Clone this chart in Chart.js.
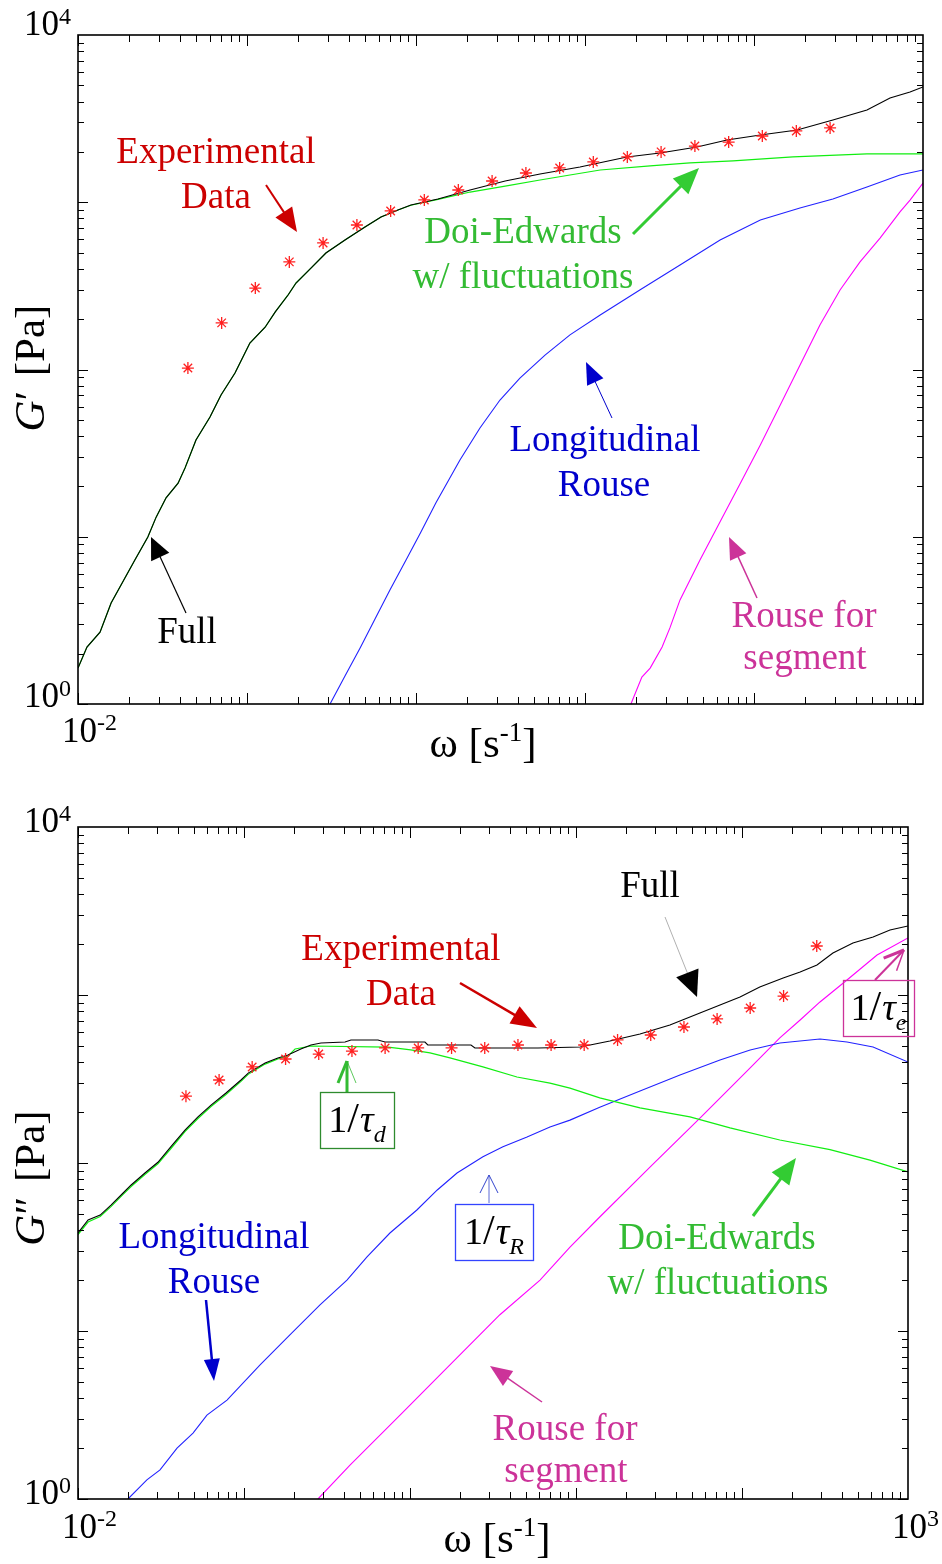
<!DOCTYPE html>
<html><head><meta charset="utf-8">
<script src="https://cdn.jsdelivr.net/npm/chart.js@4.4.1/dist/chart.umd.min.js"></script>
<style>
html,body{margin:0;padding:0;background:#fff;}
#wrap{position:relative;width:942px;height:1564px;overflow:hidden;}
canvas{position:absolute;left:0;}
</style></head><body>
<div id="wrap">
<canvas id="c1" width="942" height="780" style="top:0px"></canvas>
<canvas id="c2" width="942" height="784" style="top:780px"></canvas>
</div>
<script>
// ---------------- DATA ----------------
const xTickLabels = ['10', '-2'];
const omegaExp = [0.0447, 0.0708, 0.112, 0.178, 0.282, 0.447, 0.708, 1.12, 1.78, 2.82, 4.47, 7.08, 11.2, 17.8, 28.2, 44.7, 70.8, 112, 178, 282];
const gpExp  = [102, 190, 307, 440, 571, 731, 887, 1032, 1184, 1340, 1496, 1603, 1742, 1866, 2000, 2168, 2291, 2490, 2669, 2782];
const gppExp = [250, 312, 373, 416, 445, 464, 484, 484, 484, 484, 504, 504, 504, 540, 578, 645, 720, 837, 986, 1958];

// G' panel
const gpFullW = [0.01, 0.0113, 0.0135, 0.0157, 0.0217, 0.0259, 0.029, 0.0332, 0.0391, 0.043, 0.0499, 0.0604, 0.0702, 0.0849, 0.104, 0.128, 0.147, 0.175, 0.195, 0.239, 0.293, 0.38, 0.499, 0.621, 0.782, 0.933, 1.35, 2.09, 3.37, 5.42, 9.34, 17.7, 27.8, 46.0, 69.2, 109, 180, 293, 466, 638, 838, 1000];
const gpFull  = [1.64, 2.19, 2.69, 4.02, 7.26, 9.96, 13.1, 17.1, 20.9, 25.8, 37.9, 52.0, 70.4, 95.3, 144, 179, 221, 279, 329, 404, 497, 595, 711, 816, 899, 963, 1045, 1184, 1340, 1475, 1625, 1866, 1970, 2138, 2355, 2523, 2704, 3104, 3563, 4200, 4563, 4887];
const gpDoiW = [0.01, 0.0113, 0.0135, 0.0157, 0.0217, 0.0259, 0.029, 0.0332, 0.0391, 0.043, 0.0499, 0.0604, 0.0702, 0.0849, 0.104, 0.128, 0.147, 0.175, 0.195, 0.239, 0.293, 0.38, 0.499, 0.621, 0.782, 0.933, 1.35, 2.09, 3.37, 5.42, 8.15, 12.3, 24.3, 41.8, 75.1, 170, 466, 1000];
const gpDoi  = [1.64, 2.19, 2.69, 4.02, 7.26, 9.96, 13.1, 17.1, 20.9, 25.8, 37.9, 52.0, 70.4, 95.3, 144, 179, 221, 279, 329, 404, 497, 595, 711, 816, 899, 960, 1040, 1151, 1250, 1359, 1455, 1559, 1648, 1719, 1766, 1866, 1945, 1945];
const gpLongW = [0.31, 0.38, 0.467, 0.572, 0.701, 0.873, 1.06, 1.31, 1.82, 2.39, 3.14, 4.12, 5.8, 8.15, 12.3, 21.1, 36.5, 63.0, 109, 187, 293, 466, 731, 1000];
const gpLong  = [1.0, 1.47, 2.16, 3.22, 4.81, 7.26, 10.5, 15.9, 28.8, 44.7, 65.7, 88.9, 122, 161, 212, 299, 422, 595, 783, 924, 1045, 1233, 1455, 1559];
const gpSegW = [18.7, 21.7, 24.3, 28.6, 31.8, 36.5, 47.9, 63.0, 82.6, 109, 143, 187, 246, 323, 424, 557, 731, 838, 1000];
const gpSeg  = [1.0, 1.45, 1.64, 2.19, 2.85, 4.19, 7.26, 12.3, 20.7, 35.4, 61.4, 106, 185, 299, 440, 611, 875, 1031, 1303];

// G'' panel
const gppFullW = [0.01, 0.0115, 0.0136, 0.0158, 0.0187, 0.0209, 0.0253, 0.0303, 0.0363, 0.0441, 0.0528, 0.0633, 0.0779, 0.0959, 0.106, 0.134, 0.16, 0.184, 0.22, 0.253, 0.291, 0.406, 0.441, 0.641, 0.707, 1.23, 1.28, 2.33, 2.46, 5.9, 10.6, 16.0, 24.3, 36.8, 55.8, 73.7, 97.3, 128, 177, 224, 283, 353, 466, 616, 779, 1000];
const gppFull  = [38.3, 45.8, 49.0, 56.2, 66.3, 74.0, 87.2, 101, 125, 157, 188, 221, 261, 312, 343, 394, 422, 439, 477, 504, 518, 525, 540, 540, 525, 525, 504, 504, 484, 484, 490, 532, 586, 663, 781, 872, 973, 1116, 1263, 1371, 1509, 1778, 2041, 2214, 2438, 2574];
const gppDoiW = [0.01, 0.0115, 0.0136, 0.0158, 0.0187, 0.0209, 0.0253, 0.0303, 0.0363, 0.0441, 0.0528, 0.0633, 0.0779, 0.0959, 0.106, 0.134, 0.16, 0.184, 0.203, 0.253, 0.737, 1.01, 1.32, 1.74, 2.75, 4.41, 6.97, 9.2, 13.9, 24.3, 48.6, 84.7, 169, 339, 590, 1000];
const gppDoi  = [37.5, 44.5, 48.0, 55.0, 65.0, 72.5, 85.5, 99, 122, 154, 184, 217, 256, 306, 337, 388, 416, 433, 477, 497, 490, 471, 452, 422, 373, 325, 299, 279, 244, 213, 188, 162, 137, 120, 104, 88.4];
const gppLongW = [0.02, 0.026, 0.0312, 0.0395, 0.0493, 0.0598, 0.079, 0.125, 0.189, 0.287, 0.417, 0.551, 0.757, 1.10, 1.46, 1.92, 2.75, 3.63, 5.07, 6.97, 9.2, 13.9, 24.3, 42.3, 73.7, 112, 169, 295, 429, 616, 1000];
const gppLong  = [1.0, 1.3, 1.49, 2.01, 2.47, 3.16, 3.88, 6.28, 9.47, 14.3, 20.1, 27.6, 38.3, 52.5, 69.1, 87.2, 109, 125, 143, 164, 180, 215, 268, 334, 410, 471, 518, 547, 525, 490, 399];
const gppSegW = [0.279, 0.435, 0.871, 1.74, 3.48, 6.07, 9.2, 13.9, 27.9, 55.8, 112, 169, 224, 295, 429, 651, 1000];
const gppSeg  = [1.0, 1.59, 3.16, 6.28, 12.5, 20.1, 31.6, 47.7, 94.6, 185, 368, 555, 710, 909, 1228, 1730, 2185];

// ---------------- STYLE / HELPERS ----------------
const SERIF = "'Liberation Serif','Times New Roman',serif";
const RED_T = '#cc0000', GREEN_T = '#33bb33', BLUE_T = '#0000cc', MAG_T = '#cc3399';
const TXT = 37;
function pts(xs, ys) { return xs.map((x, i) => ({ x: x, y: ys[i] })); }
function fnt(size, italic) { return (italic ? 'italic ' : '') + size + 'px ' + SERIF; }

function drawRuns(ctx, runs, x, y, align, color) {
  let w = 0;
  runs.forEach(r => { ctx.font = fnt(r.size, r.italic); r.w = ctx.measureText(r.t).width + (r.kern || 0); w += r.w; });
  let cx = align === 'center' ? x - w / 2 : (align === 'right' ? x - w : x);
  ctx.fillStyle = color || '#000';
  ctx.textAlign = 'left'; ctx.textBaseline = 'alphabetic';
  runs.forEach(r => { ctx.font = fnt(r.size, r.italic); ctx.fillText(r.t, cx, y + (r.dy || 0)); cx += r.w; });
}

function line(ctx, x1, y1, x2, y2) { ctx.beginPath(); ctx.moveTo(x1, y1); ctx.lineTo(x2, y2); ctx.stroke(); }

function arrowFilled(ctx, a) {
  const ang = Math.atan2(a.y2 - a.y1, a.x2 - a.x1);
  const bx = a.x2 - a.hl * Math.cos(ang), by = a.y2 - a.hl * Math.sin(ang);
  ctx.strokeStyle = a.shaft || a.c; ctx.lineWidth = a.lw;
  line(ctx, a.x1, a.y1, bx + 2 * Math.cos(ang), by + 2 * Math.sin(ang));
  ctx.fillStyle = a.c;
  ctx.beginPath(); ctx.moveTo(a.x2, a.y2);
  ctx.lineTo(bx + a.hw / 2 * Math.sin(ang), by - a.hw / 2 * Math.cos(ang));
  ctx.lineTo(bx - a.hw / 2 * Math.sin(ang), by + a.hw / 2 * Math.cos(ang));
  ctx.closePath(); ctx.fill();
}
function arrowOpen(ctx, a) {
  const ang = Math.atan2(a.y2 - a.y1, a.x2 - a.x1);
  const bx = a.x2 - a.hl * Math.cos(ang), by = a.y2 - a.hl * Math.sin(ang);
  ctx.strokeStyle = a.c; ctx.lineWidth = a.lw;
  line(ctx, a.x1, a.y1, a.x2, a.y2);
  ctx.lineWidth = a.hlw1;
  line(ctx, bx + a.hw / 2 * Math.sin(ang), by - a.hw / 2 * Math.cos(ang), a.x2, a.y2);
  ctx.lineWidth = a.hlw2;
  line(ctx, bx - a.hw / 2 * Math.sin(ang), by + a.hw / 2 * Math.cos(ang), a.x2, a.y2);
}

// ---------------- ANNOTATIONS (page coordinates) ----------------
const topTexts = [
  { t: 'Experimental', x: 216, y: 163, c: RED_T },
  { t: 'Data', x: 216, y: 208, c: RED_T },
  { t: 'Doi-Edwards', x: 523, y: 243, c: GREEN_T },
  { t: 'w/ fluctuations', x: 523, y: 288, c: GREEN_T },
  { t: 'Longitudinal', x: 605, y: 451, c: BLUE_T },
  { t: 'Rouse', x: 604, y: 496, c: BLUE_T },
  { t: 'Full', x: 187, y: 643, c: '#000' },
  { t: 'Rouse for', x: 804, y: 627, c: MAG_T },
  { t: 'segment', x: 805, y: 669, c: MAG_T }
];
const topArrows = [
  { x1: 266, y1: 185, x2: 297, y2: 232, c: '#cc0000', lw: 2, hl: 24, hw: 20 },
  { x1: 633, y1: 234, x2: 699, y2: 168, c: '#33cc33', lw: 3, hl: 26, hw: 22 },
  { x1: 612, y1: 418, x2: 586, y2: 362, c: '#0000cc', lw: 1, hl: 22, hw: 18 },
  { x1: 186, y1: 613, x2: 151, y2: 537, c: '#000000', lw: 1.2, hl: 22, hw: 20 },
  { x1: 757, y1: 598, x2: 729, y2: 537, c: '#cc3399', lw: 1.5, hl: 22, hw: 18 }
];
const botTexts = [
  { t: 'Full', x: 650, y: 897, c: '#000' },
  { t: 'Experimental', x: 401, y: 960, c: RED_T },
  { t: 'Data', x: 401, y: 1005, c: RED_T },
  { t: 'Longitudinal', x: 214, y: 1248, c: BLUE_T },
  { t: 'Rouse', x: 214, y: 1293, c: BLUE_T },
  { t: 'Doi-Edwards', x: 717, y: 1249, c: GREEN_T },
  { t: 'w/ fluctuations', x: 718, y: 1294, c: GREEN_T },
  { t: 'Rouse for', x: 565, y: 1440, c: MAG_T },
  { t: 'segment', x: 566, y: 1482, c: MAG_T }
];
const botArrows = [
  { x1: 665, y1: 917, x2: 697, y2: 997, c: '#000000', shaft: '#b0b0b0', lw: 1, hl: 26, hw: 24 },
  { x1: 460, y1: 983, x2: 537, y2: 1028, c: '#cc0000', lw: 2.5, hl: 26, hw: 20 },
  { x1: 206, y1: 1300, x2: 214, y2: 1381, c: '#0000cc', lw: 2.5, hl: 22, hw: 16 },
  { x1: 753, y1: 1216, x2: 796, y2: 1158, c: '#33cc33', lw: 3, hl: 26, hw: 22 },
  { x1: 542, y1: 1402, x2: 490, y2: 1366, c: '#cc3399', lw: 1.5, hl: 22, hw: 18 }
];
const botOpenArrows = [
  { x1: 347, y1: 1092, x2: 347, y2: 1061, c: '#33bb33', lw: 3, hl: 22, hw: 18, hlw1: 3, hlw2: 0.8 },
  { x1: 489, y1: 1203, x2: 489, y2: 1175, c: '#3344cc', lw: 0.8, hl: 18, hw: 18, hlw1: 1, hlw2: 1 },
  { x1: 875, y1: 980, x2: 904, y2: 950, c: '#cc3399', lw: 2, hl: 20, hw: 18, hlw1: 3, hlw2: 1.5 }
];
const botBoxes = [
  { x: 320, y: 1092, w: 74, h: 56, c: '#2e8b2e', sub: 'd' },
  { x: 455, y: 1204, w: 78, h: 56, c: '#3344ff', sub: 'R' },
  { x: 843, y: 980, w: 71, h: 56, c: '#cc3399', sub: 'e' }
];

function axisPlugin(cfg) {
  return {
    id: 'axdeco_' + cfg.id,
    afterDraw(chart) {
      const ctx = chart.ctx, a = chart.chartArea, xs = chart.scales.x, ys = chart.scales.y;
      const oy = cfg.offsetY;
      ctx.save();
      // ticks
      ctx.strokeStyle = '#000'; ctx.lineWidth = 1;
      for (let e = -2; e <= 2; e++) {
        for (let d = 1; d <= 9; d++) {
          const px = Math.round(xs.getPixelForValue(d * Math.pow(10, e))) + 0.5;
          const L = d === 1 ? 11 : 7;
          line(ctx, px, a.bottom, px, a.bottom - L);
          line(ctx, px, a.top, px, a.top + L);
        }
      }
      for (let e = 0; e <= 3; e++) {
        for (let d = 1; d <= 9; d++) {
          const py = Math.round(ys.getPixelForValue(d * Math.pow(10, e))) + 0.5;
          const L = d === 1 ? 10 : 6;
          line(ctx, a.left, py, a.left + L, py);
          line(ctx, a.right, py, a.right - L, py);
        }
      }
      ctx.lineWidth = 1.6;
      ctx.strokeRect(a.left, a.top, a.right - a.left, a.bottom - a.top);

      // tick labels
      const yTop = ys.getPixelForValue(1e4), yBot = ys.getPixelForValue(1);
      drawRuns(ctx, [{ t: '10', size: 35 }, { t: '4', size: 24, dy: -11 }], 71, yTop + cfg.topLabDy, 'right');
      drawRuns(ctx, [{ t: '10', size: 35 }, { t: '0', size: 24, dy: -11 }], 71, yBot + cfg.botLabDy, 'right');
      const xl = xs.getPixelForValue(0.01);
      drawRuns(ctx, [{ t: xTickLabels[0], size: 35 }, { t: xTickLabels[1], size: 24, dy: -12 }], xl - 16, a.bottom + cfg.xLabDy, 'left');
      if (cfg.showRight) {
        const xr = xs.getPixelForValue(1000);
        drawRuns(ctx, [{ t: '10', size: 35 }, { t: '3', size: 24, dy: -12 }], xr - 16, a.bottom + cfg.xLabDy, 'left');
      }

      // axis titles
      drawRuns(ctx, [{ t: 'ω [s', size: 43 }, { t: '-1', size: 27, dy: -16 }, { t: ']', size: 43 }], cfg.xTitleX, cfg.xTitleY - oy, 'center');
      ctx.save();
      ctx.translate(cfg.yTitleX, cfg.yTitleC - oy);
      ctx.rotate(-Math.PI / 2);
      drawRuns(ctx, [{ t: 'G', size: 43, italic: true }, { t: cfg.prime, size: 43, kern: 4 }, { t: ' [Pa]', size: 43 }], 0, 0, 'center');
      ctx.restore();

      // annotations
      cfg.texts.forEach(t => drawRuns(ctx, [{ t: t.t, size: TXT }], t.x, t.y - oy, 'center', t.c));
      cfg.arrows.forEach(ar => arrowFilled(ctx, Object.assign({}, ar, { y1: ar.y1 - oy, y2: ar.y2 - oy })));
      (cfg.openArrows || []).forEach(ar => arrowOpen(ctx, Object.assign({}, ar, { y1: ar.y1 - oy, y2: ar.y2 - oy })));
      (cfg.boxes || []).forEach(b => {
        ctx.strokeStyle = b.c; ctx.lineWidth = 1.3;
        ctx.strokeRect(b.x + 0.5, b.y - oy + 0.5, b.w, b.h);
        const runs = [{ t: '1', size: 38 }, { t: '/', size: 42, kern: 1 }, { t: 'τ', size: 38, italic: true }, { t: b.sub, size: 24, italic: true, dy: 10 }];
        drawRuns(ctx, runs, b.x + b.w / 2, b.y - oy + 40, 'center', '#000');
      });
      ctx.restore();
    }
  };
}

function makeChart(id, cfg, sets) {
  const ds = [
    { data: pts(omegaExp, sets.exp), showLine: false, pointStyle: 'star', pointRadius: 6, borderColor: '#ff2020', backgroundColor: '#ff2020', borderWidth: 1.3 },
    { data: pts(sets.fullW, sets.full), showLine: true, pointRadius: 0, borderColor: '#000000', borderWidth: 1.1, tension: 0 },
    { data: pts(sets.doiW, sets.doi), showLine: true, pointRadius: 0, borderColor: '#11ee11', borderWidth: 1.2, tension: 0 },
    { data: pts(sets.longW, sets.long), showLine: true, pointRadius: 0, borderColor: '#2222ff', borderWidth: 1.1, tension: 0 },
    { data: pts(sets.segW, sets.seg), showLine: true, pointRadius: 0, borderColor: '#ff00ff', borderWidth: 1.1, tension: 0 }
  ];
  return new Chart(document.getElementById(id), {
    type: 'scatter',
    data: { datasets: ds },
    options: {
      responsive: false, animation: false, devicePixelRatio: 1,
      layout: { padding: { left: 0, top: cfg.padTop, right: cfg.padRight, bottom: 0 } },
      plugins: { legend: { display: false }, tooltip: { enabled: false }, title: { display: false } },
      scales: {
        x: { type: 'logarithmic', min: 0.01, max: 1000, ticks: { display: false }, grid: { display: false }, border: { display: false },
             afterFit: s => { s.height = cfg.xH; } },
        y: { type: 'logarithmic', min: 1, max: 10000, ticks: { display: false }, grid: { display: false }, border: { display: false },
             afterFit: s => { s.width = 78; } }
      }
    },
    plugins: [axisPlugin(cfg)]
  });
}

makeChart('c1', {
  id: 'top', offsetY: 0, padTop: 35, padRight: 19, xH: 76,
  topLabDy: 0, botLabDy: 3, xLabDy: 38, showRight: false,
  xTitleX: 483, xTitleY: 757, yTitleX: 44, yTitleC: 368, prime: '′',
  texts: topTexts, arrows: topArrows
}, { exp: gpExp, fullW: gpFullW, full: gpFull, doiW: gpDoiW, doi: gpDoi, longW: gpLongW, long: gpLong, segW: gpSegW, seg: gpSeg });

makeChart('c2', {
  id: 'bot', offsetY: 780, padTop: 47, padRight: 34, xH: 65,
  topLabDy: 5, botLabDy: 5, xLabDy: 39, showRight: true,
  xTitleX: 497, xTitleY: 1552, yTitleX: 44, yTitleC: 1178, prime: '″',
  texts: botTexts, arrows: botArrows, openArrows: botOpenArrows, boxes: botBoxes
}, { exp: gppExp, fullW: gppFullW, full: gppFull, doiW: gppDoiW, doi: gppDoi, longW: gppLongW, long: gppLong, segW: gppSegW, seg: gppSeg });
</script>
</body></html>
